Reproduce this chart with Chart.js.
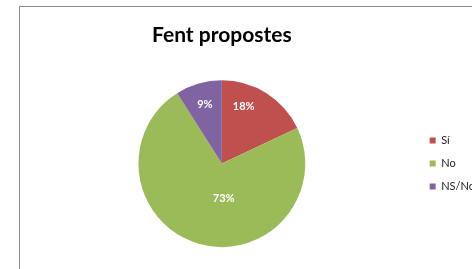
<!DOCTYPE html>
<html>
<head>
<meta charset="utf-8">
<script src="https://cdn.jsdelivr.net/npm/chart.js@4/dist/chart.umd.min.js"></script>
<style>
  html, body { margin: 0; padding: 0; background: #fff; overflow: hidden; }
  #wrap { position: relative; width: 472px; height: 269px; overflow: hidden; }
  #chart { position: absolute; left: 0; top: 0; }
</style>
</head>
<body>
<div id="wrap"><canvas id="chart" width="540" height="269"></canvas></div>
<script>
const categories = ['Sí', 'No', 'NS/Nc'];
const shares = [18, 73, 9];
const sliceColors = ['#C0504D', '#9BBB59', '#8064A2'];
const titleText = 'Fent propostes';

// where Excel put each percent label: [degrees from top, fraction of radius]
const labelSpots = [[21, 0.73], [177, 0.42], [-16, 0.74]];

const frame = {
  id: 'frame',
  beforeDraw(chart) {
    const { ctx } = chart;
    ctx.save();
    ctx.strokeStyle = '#8a8a8a';
    ctx.lineWidth = 1;
    ctx.strokeRect(19.5, 6.5, 700, 400);
    ctx.restore();
  },
};

const pctLabels = {
  id: 'pctLabels',
  afterDatasetsDraw(chart) {
    const { ctx } = chart;
    const meta = chart.getDatasetMeta(0);
    ctx.save();
    ctx.fillStyle = '#fff';
    ctx.font = 'bold 11px Lato';
    ctx.textAlign = 'center';
    ctx.textBaseline = 'middle';
    meta.data.forEach((arc, i) => {
      const [deg, frac] = labelSpots[i];
      const a = deg * Math.PI / 180;
      const d = arc.outerRadius * frac;
      ctx.fillText(shares[i] + '%', arc.x + d * Math.sin(a), arc.y - d * Math.cos(a));
    });
    ctx.restore();
  },
};

new Chart(document.getElementById('chart'), {
  type: 'pie',
  data: {
    labels: categories,
    datasets: [{
      data: shares,
      backgroundColor: sliceColors,
      borderWidth: 0,
    }],
  },
  options: {
    responsive: false,
    animation: false,
    devicePixelRatio: 1,
    layout: { padding: { left: 26, right: 56, top: 0, bottom: 22 } },
    plugins: {
      title: {
        display: true,
        text: titleText,
        fullSize: false,
        color: '#000',
        font: { family: 'Lato', size: 21, weight: 'bold', lineHeight: 1.2 },
        padding: { top: 23, bottom: 32 },
      },
      legend: {
        position: 'right',
        fullSize: false,
        labels: {
          boxWidth: 6,
          boxHeight: 6,
          padding: 12,
          color: '#222',
          font: { family: 'Lato', size: 11 },
        },
      },
      tooltip: { enabled: false },
    },
  },
  plugins: [frame, pctLabels],
});
</script>
</body>
</html>
